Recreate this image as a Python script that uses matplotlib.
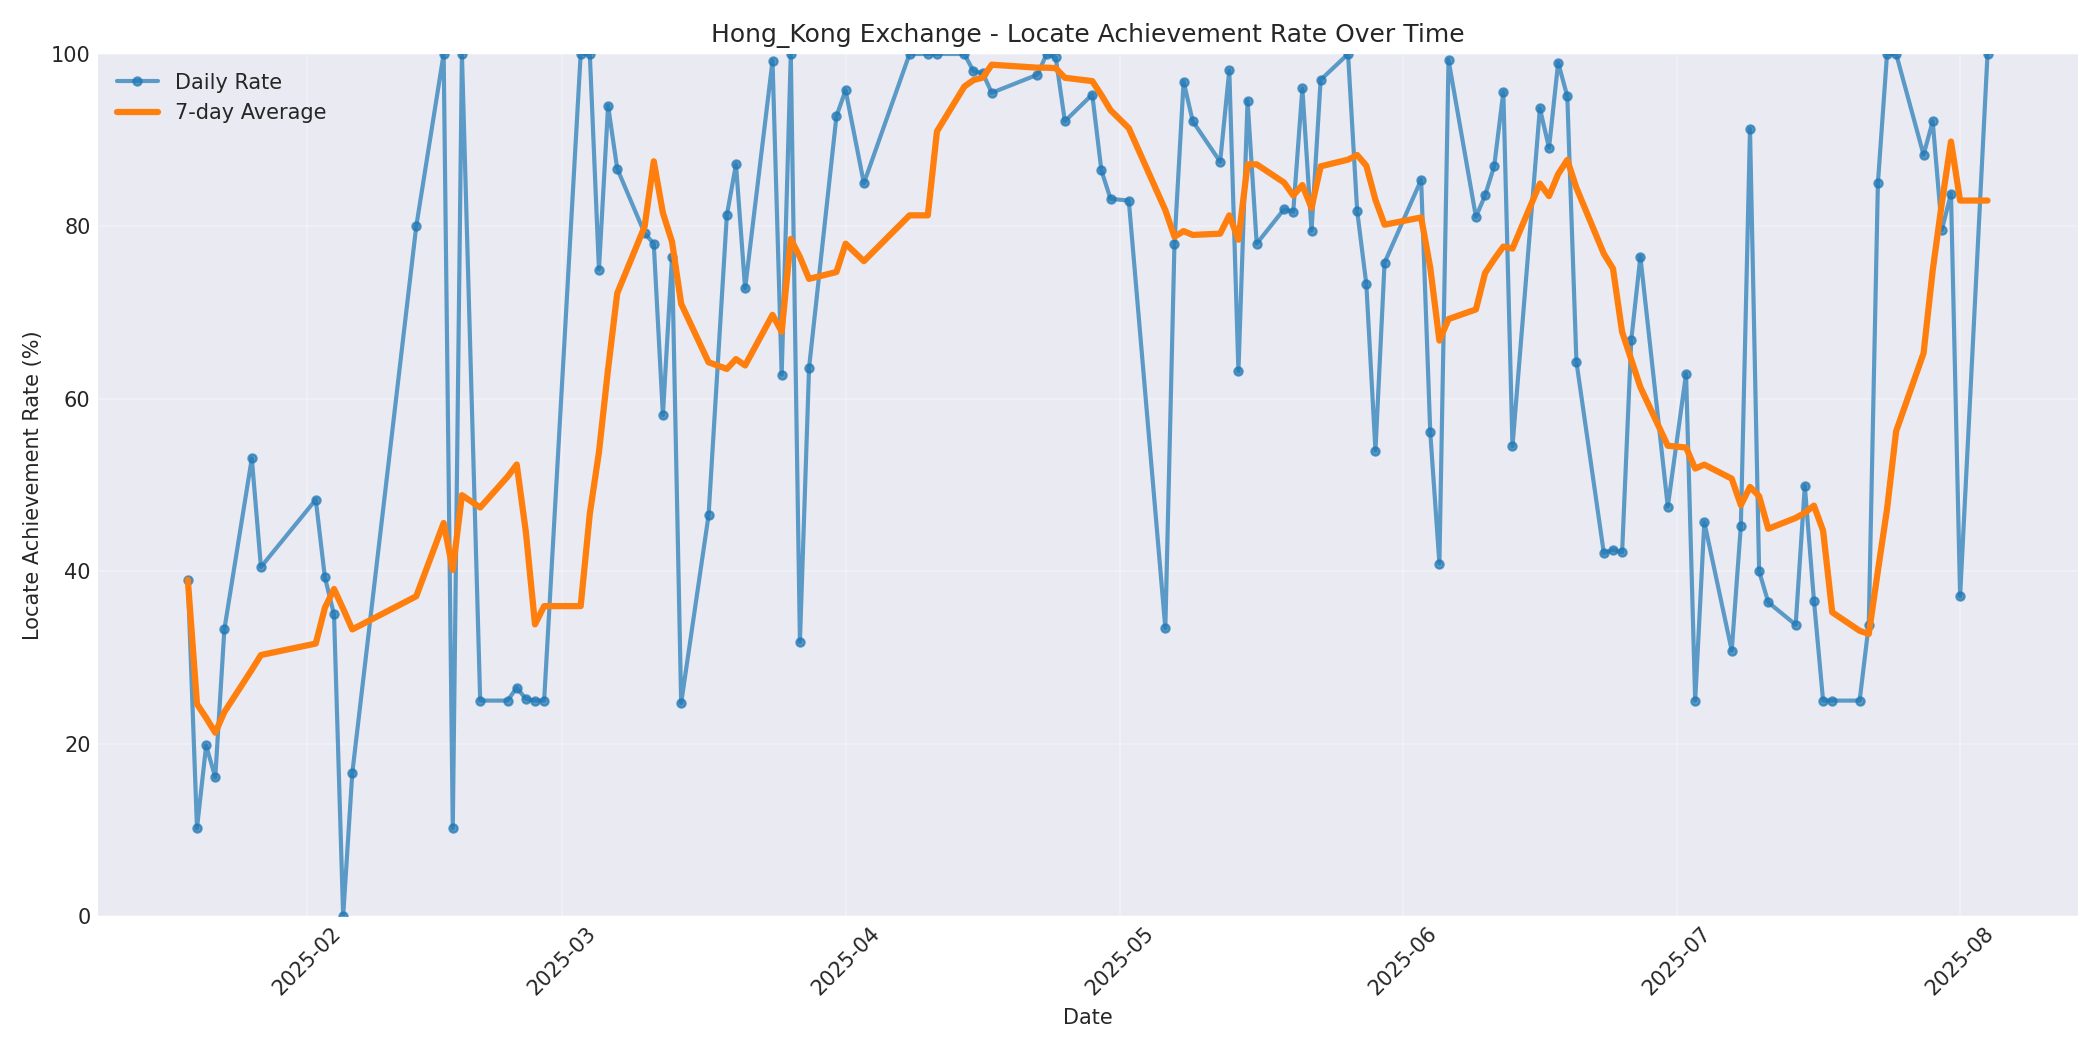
import pandas as pd
import matplotlib
matplotlib.use('Agg')
from matplotlib import pyplot as plt
import matplotlib.dates as mdates

dates = [
    '2025-01-19', '2025-01-20', '2025-01-21', '2025-01-22', '2025-01-23', '2025-01-26', '2025-01-27',
    '2025-02-02', '2025-02-03', '2025-02-04', '2025-02-05', '2025-02-06', '2025-02-13', '2025-02-16',
    '2025-02-17', '2025-02-18', '2025-02-20', '2025-02-23', '2025-02-24', '2025-02-25', '2025-02-26',
    '2025-02-27', '2025-03-03', '2025-03-04', '2025-03-05', '2025-03-06', '2025-03-07', '2025-03-10',
    '2025-03-11', '2025-03-12', '2025-03-13', '2025-03-14', '2025-03-17', '2025-03-19', '2025-03-20',
    '2025-03-21', '2025-03-24', '2025-03-25', '2025-03-26', '2025-03-27', '2025-03-28', '2025-03-31',
    '2025-04-01', '2025-04-03', '2025-04-08', '2025-04-10', '2025-04-11', '2025-04-14', '2025-04-15',
    '2025-04-16', '2025-04-17', '2025-04-22', '2025-04-23', '2025-04-24', '2025-04-25', '2025-04-28',
    '2025-04-29', '2025-04-30', '2025-05-02', '2025-05-06', '2025-05-07', '2025-05-08', '2025-05-09',
    '2025-05-12', '2025-05-13', '2025-05-14', '2025-05-15', '2025-05-16', '2025-05-19', '2025-05-20',
    '2025-05-21', '2025-05-22', '2025-05-23', '2025-05-26', '2025-05-27', '2025-05-28', '2025-05-29',
    '2025-05-30', '2025-06-03', '2025-06-04', '2025-06-05', '2025-06-06', '2025-06-09', '2025-06-10',
    '2025-06-11', '2025-06-12', '2025-06-13', '2025-06-16', '2025-06-17', '2025-06-18', '2025-06-19',
    '2025-06-20', '2025-06-23', '2025-06-24', '2025-06-25', '2025-06-26', '2025-06-27', '2025-06-30',
    '2025-07-02', '2025-07-03', '2025-07-04', '2025-07-07', '2025-07-08', '2025-07-09', '2025-07-10',
    '2025-07-11', '2025-07-14', '2025-07-15', '2025-07-16', '2025-07-17', '2025-07-18', '2025-07-21',
    '2025-07-22', '2025-07-23', '2025-07-24', '2025-07-25', '2025-07-28', '2025-07-29', '2025-07-30',
    '2025-07-31', '2025-08-01', '2025-08-04',
]
daily_rate = [
    39.0, 10.2, 19.8, 16.1, 33.3, 53.1, 40.5,
    48.3, 39.3, 35.0, 0.0, 16.6, 80.0, 100.0,
    10.2, 100.0, 25.0, 25.0, 26.5, 25.2, 25.0,
    25.0, 100.0, 100.0, 75.0, 94.0, 86.7, 79.2,
    78.0, 58.1, 76.5, 24.7, 46.5, 81.3, 87.2,
    72.8, 99.2, 62.8, 100.0, 31.8, 63.6, 92.8,
    95.8, 85.0, 100.0, 100.0, 100.0, 100.0, 98.0,
    97.8, 95.5, 97.6, 100.0, 99.6, 92.2, 95.3,
    86.5, 83.2, 83.0, 33.4, 78.0, 96.8, 92.2,
    87.5, 98.1, 63.2, 94.6, 78.0, 82.0, 81.7,
    96.0, 79.5, 97.0, 100.0, 81.8, 73.3, 54.0,
    75.8, 85.4, 56.1, 40.9, 99.3, 81.1, 83.6,
    87.0, 95.6, 54.5, 93.7, 89.1, 99.0, 95.1,
    64.3, 42.1, 42.5, 42.2, 66.8, 76.5, 47.5,
    62.9, 25.0, 45.7, 30.8, 45.3, 91.3, 40.0,
    36.4, 33.8, 49.9, 36.6, 25.0, 25.0, 25.0,
    33.8, 85.0, 100.0, 100.0, 88.3, 92.2, 79.6,
    83.8, 37.1, 100.0,
]

df = pd.DataFrame({'date': pd.to_datetime(dates), 'rate': daily_rate})
df['avg'] = df['rate'].rolling(7, min_periods=1).mean()

plt.style.use('seaborn-v0_8-darkgrid')
plt.rcParams['font.family'] = ['DejaVu Sans']
fig, ax = plt.subplots(figsize=(14, 7), dpi=150)

ax.plot(df['date'], df['rate'], marker='o', markersize=4, linewidth=2,
        alpha=0.7, color='#1f77b4', label='Daily Rate')
ax.plot(df['date'], df['avg'], linewidth=3, color='#ff7f0e', label='7-day Average')

ax.set_ylim(0, 100)
ax.set_xlabel('Date')
ax.set_ylabel('Locate Achievement Rate (%)')
ax.set_title('Hong_Kong Exchange - Locate Achievement Rate Over Time')
ax.xaxis.set_major_locator(mdates.MonthLocator())
ax.xaxis.set_major_formatter(mdates.DateFormatter('%Y-%m'))
plt.setp(ax.get_xticklabels(), rotation=45)
ax.grid(True, alpha=0.3)
ax.legend(loc='upper left')

plt.tight_layout()
plt.savefig('out.png')
